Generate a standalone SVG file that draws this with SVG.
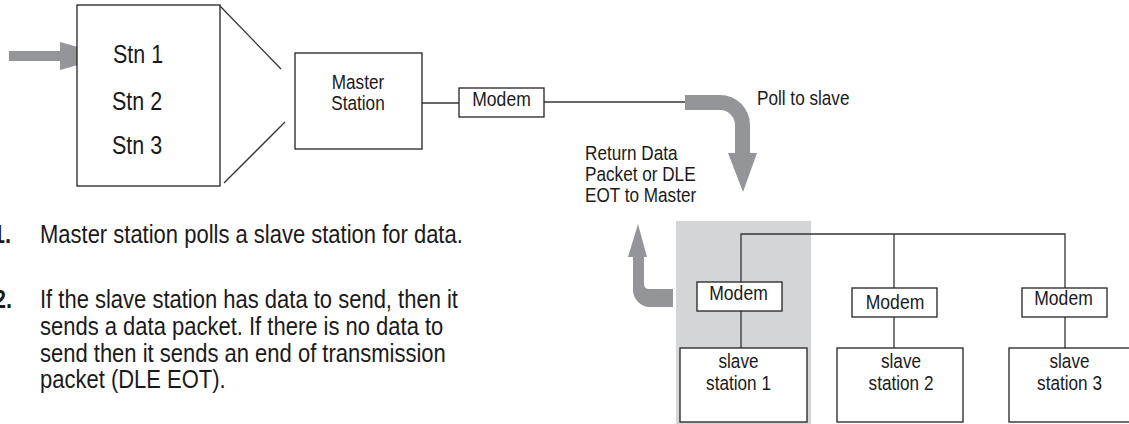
<svg xmlns="http://www.w3.org/2000/svg" width="1129" height="424" viewBox="0 0 1129 424">
  <style>
    text { font-family: "Liberation Sans", Arial, sans-serif; fill: #1a1a1a; }
    .big { font-size: 25px; }
    .lbl { font-size: 19.5px; }
    .mid { text-anchor: middle; }
    .end { text-anchor: end; }
    .num { font-weight: bold; }
    .box { fill: #fff; stroke: #222; stroke-width: 1.3; }
    .wire { fill: none; stroke: #333; stroke-width: 1.3; }
    .flow { fill: #939598; stroke: none; }
    .shade { fill: #d4d5d7; }
  </style>

  <!-- highlight behind the polled slave -->
  <rect class="shade" x="676" y="221" width="135" height="203"/>

  <!-- connectors -->
  <g id="connectors">
    <line class="wire" x1="220" y1="6" x2="281" y2="69"/>
    <line class="wire" x1="224" y1="183" x2="285" y2="122"/>
    <line class="wire" x1="422" y1="103" x2="459" y2="103"/>
    <line class="wire" x1="544" y1="102" x2="687" y2="102"/>
    <polyline class="wire" points="741,282 741,234 1065,234 1065,288"/>
    <line class="wire" x1="894" y1="234" x2="894" y2="288"/>
    <line class="wire" x1="741" y1="311" x2="741" y2="348"/>
    <line class="wire" x1="894" y1="317" x2="894" y2="348"/>
    <line class="wire" x1="1065" y1="317" x2="1065" y2="348"/>
    <!-- input arrow into station list -->
    <path class="flow" d="M9,51 H60 V42 L110,56 L60,70 V61 H9 Z"/>
    <!-- poll arrow -->
    <path class="flow" d="M685,95 H720 A30,30 0 0 1 750,125 V153 H757 L743,192 L728,153 H735 V125 A15,15 0 0 0 720,110 H685 Z"/>
    <!-- return arrow -->
    <path class="flow" d="M673,289 H649 Q644,289 644,284 V257 H647 L638,224 L628,257 H633 V290 A17,17 0 0 0 650,307 H673 Z"/>
  </g>

  <g id="stations">
    <rect class="box" x="77" y="5" width="143" height="181"/>
    <text class="big" transform="translate(113,63) scale(.86,1)">Stn 1</text>
    <text class="big" transform="translate(112,110) scale(.86,1)">Stn 2</text>
    <text class="big" transform="translate(112,154) scale(.86,1)">Stn 3</text>
  </g>

  <g id="master">
    <rect class="box" x="295" y="53" width="127" height="96"/>
    <text class="lbl mid" transform="translate(358,89) scale(.88,1)">Master</text>
    <text class="lbl mid" transform="translate(358,110) scale(.88,1)">Station</text>
  </g>

  <g id="modem-master">
    <rect class="box" x="459" y="88" width="85" height="29"/>
    <text class="lbl mid" transform="translate(501.5,106) scale(.9,1)">Modem</text>
  </g>

  <g id="poll-label">
    <text class="lbl" transform="translate(757,105) scale(.88,1)">Poll to slave</text>
  </g>

  <g id="return-label">
    <text class="lbl" transform="translate(585,160) scale(.88,1)">Return Data</text>
    <text class="lbl" transform="translate(585,181) scale(.88,1)">Packet or DLE</text>
    <text class="lbl" transform="translate(585,202) scale(.88,1)">EOT to Master</text>
  </g>

  <g id="modem-1">
    <rect class="box" x="697" y="282" width="85" height="29"/>
    <text class="lbl mid" transform="translate(738.5,300) scale(.9,1)">Modem</text>
  </g>
  <g id="modem-2">
    <rect class="box" x="852" y="288" width="85" height="29"/>
    <text class="lbl mid" transform="translate(895,309) scale(.9,1)">Modem</text>
  </g>
  <g id="modem-3">
    <rect class="box" x="1022" y="288" width="85" height="29"/>
    <text class="lbl mid" transform="translate(1063.5,305) scale(.9,1)">Modem</text>
  </g>

  <g id="slave-1">
    <rect class="box" x="680" y="348" width="127" height="74"/>
    <text class="lbl mid" transform="translate(738.5,368) scale(.88,1)">slave</text>
    <text class="lbl mid" transform="translate(738.5,390) scale(.88,1)">station 1</text>
  </g>
  <g id="slave-2">
    <rect class="box" x="837" y="348" width="126" height="74"/>
    <text class="lbl mid" transform="translate(901,368) scale(.88,1)">slave</text>
    <text class="lbl mid" transform="translate(901,390) scale(.88,1)">station 2</text>
  </g>
  <g id="slave-3">
    <rect class="box" x="1009" y="348" width="124" height="74"/>
    <text class="lbl mid" transform="translate(1069.5,368) scale(.88,1)">slave</text>
    <text class="lbl mid" transform="translate(1069.5,390) scale(.88,1)">station 3</text>
  </g>

  <!-- numbered steps -->
  <g id="steps">
    <text class="big num end" transform="translate(11,243) scale(.88,1)">1.</text>
    <text class="big" transform="translate(40,243) scale(.88,1)">Master station polls a slave station for data.</text>
    <text class="big num end" transform="translate(12,308) scale(.88,1)">2.</text>
    <text class="big" transform="translate(40,308) scale(.88,1)">If the slave station has data to send, then it</text>
    <text class="big" transform="translate(40,335) scale(.88,1)">sends a data packet. If there is no data to</text>
    <text class="big" transform="translate(40,362) scale(.88,1)">send then it sends an end of transmission</text>
    <text class="big" transform="translate(40,388) scale(.88,1)">packet (DLE EOT).</text>
  </g>
</svg>
